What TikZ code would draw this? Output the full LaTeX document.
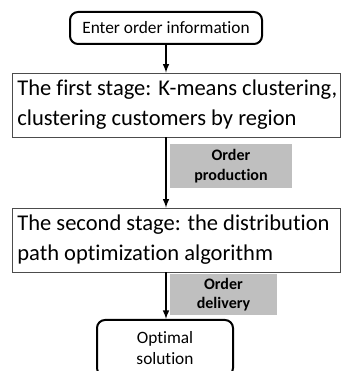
\documentclass[tikz,border=0pt]{standalone}
\usepackage{fontspec}
\setmainfont{Carlito}[Ligatures=NoCommon]
\usetikzlibrary{shapes.geometric, arrows, positioning, calc}

\begin{document}
\begin{tikzpicture}[x=0.75pt, y=0.75pt,
            term/.style={rectangle, rounded corners=6pt, draw=black, line width=1.5pt, align=center, font=\fontsize{13}{16}\selectfont, fill=white},
            stage/.style={rectangle, draw=black!70, line width=0.6pt, minimum height=48pt, inner xsep=1pt, text width=244pt, align=flush left, font=\fontsize{16.9}{22.5}\selectfont, fill=white},
            tag/.style={rectangle, fill=black!25, align=center, font=\fontsize{12}{14.5}\selectfont\bfseries},
            arrow/.style={-latex, line width=1.2pt}
        ]
            \useasboundingbox (0,0) rectangle (341,371);

% Start and end
            \node[term, minimum width=144pt, minimum height=24pt] (enter) at (166,343) {Enter order information};
            \node[term, minimum width=102pt, minimum height=42pt] (optimal) at (165,23) {Optimal\\solution};

% Two stages
            \node[stage] (first) at (176,266) {\hspace{3pt}The first stage: K-means clustering,\\\hspace*{3pt}clustering customers by region};
            \node[stage] (second) at (176,131) {\hspace{3pt}The second stage: the distribution\\\hspace*{3pt}path optimization algorithm};

% Flow
            \draw[arrow] (enter.south -| 166,0) -- (first.north -| 166,0);
            \draw[arrow] (first.south -| 166,0) -- (second.north -| 166,0);
            \draw[arrow] (second.south -| 166,0) -- (optimal.north -| 166,0);

% Labels beside the flow
            \node[tag, minimum width=91.5pt, minimum height=33pt] (production) at (231,205) {Order\\production};
            \node[tag, minimum width=80pt, minimum height=31pt] (delivery) at (223.5,76.5) {Order\\delivery};

        \end{tikzpicture}
\end{document}
